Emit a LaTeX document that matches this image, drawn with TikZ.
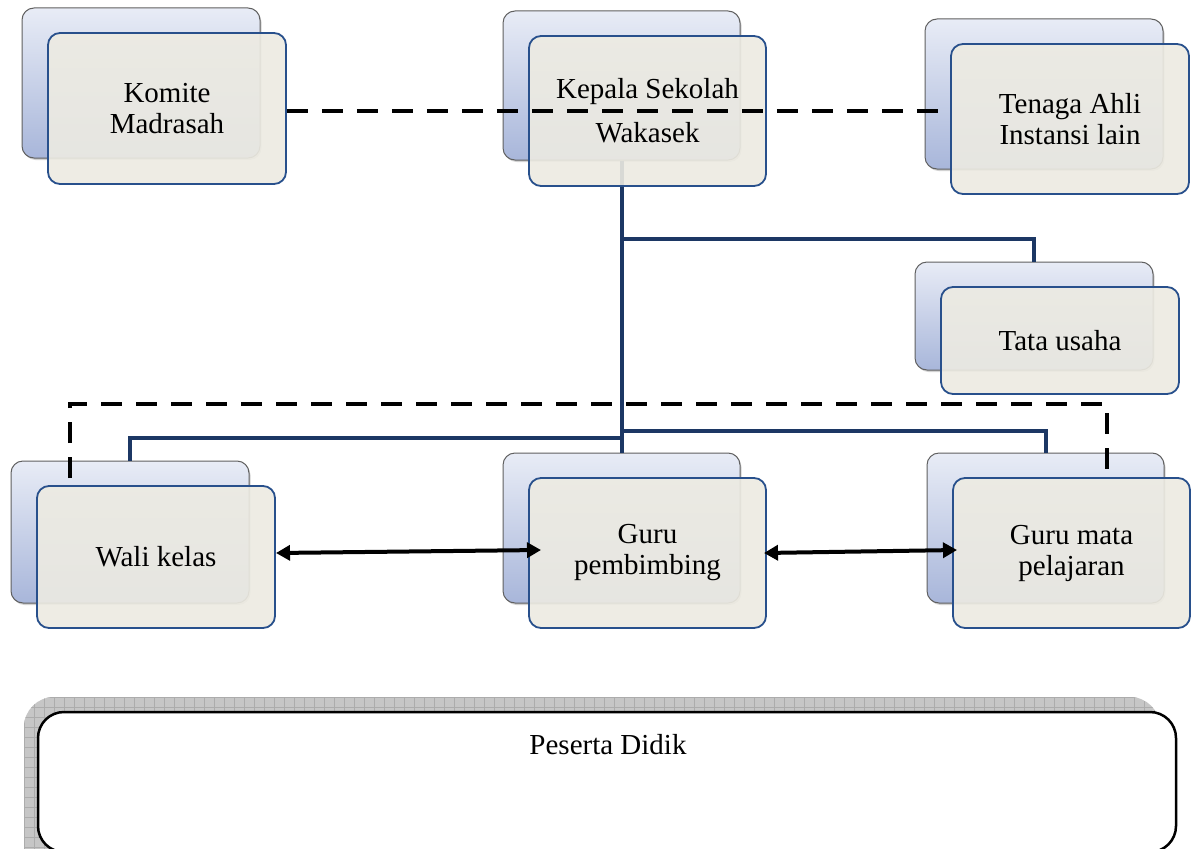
\documentclass[tikz,border=0pt]{standalone}
\usepackage{fontspec}
\setmainfont{Liberation Serif}
\usetikzlibrary{arrows.meta,shadows}
\definecolor{bkTop}{RGB}{232,236,246}
\definecolor{bkBot}{RGB}{168,182,218}
\definecolor{frFill}{RGB}{237,235,226}
\definecolor{frBorder}{RGB}{40,80,140}
\definecolor{navy}{RGB}{28,55,100}
\newcommand{\lblfont}{\fontsize{29}{31}\selectfont}
\tikzset{
  backbox/.style={rectangle, rounded corners=12pt, draw=gray!75!black, line width=1pt,
    top color=bkTop, bottom color=bkBot, inner sep=0pt,
    drop shadow={shadow xshift=1.5pt, shadow yshift=-2pt, opacity=0.35}},
  frontbox/.style={rectangle, rounded corners=12pt, draw=frBorder, line width=1.8pt,
    fill=frFill, fill opacity=0.9, text opacity=1, inner sep=0pt, align=center, font=\lblfont},
  orgline/.style={draw=navy, line width=4pt},
  dashline/.style={draw=black, line width=4pt, dash pattern=on 21pt off 14pt},
  twoway/.style={draw=black, line width=4pt, {Triangle[length=14pt,width=15pt]}-{Triangle[length=14pt,width=15pt]}},
  lbl/.style={font=\lblfont, inner sep=0pt}
}
\begin{document}
\begin{tikzpicture}[x=1pt,y=-1pt]
\clip (0,0) rectangle (1198,848);
\fill[white] (0,0) rectangle (1198,848);

% back boxes
\node[backbox, minimum width=238pt, minimum height=150pt] (komiteB) at (141,83) {};
\node[backbox, minimum width=237pt, minimum height=149pt] (kepalaB) at (621.5,85.5) {};
\node[backbox, minimum width=238pt, minimum height=150pt] (tenagaB) at (1044,94) {};
\node[backbox, minimum width=238pt, minimum height=108pt] (tataB) at (1034,316) {};
\node[backbox, minimum width=238pt, minimum height=142pt] (waliB) at (130,532) {};
\node[backbox, minimum width=237pt, minimum height=150pt] (gpB) at (621.5,528) {};
\node[backbox, minimum width=237pt, minimum height=150pt] (gmB) at (1045.5,528) {};

% organisation lines
\coordinate (j1) at (621.5,239);
\coordinate (j2) at (621.5,438);
\coordinate (j3) at (621.5,431);
\draw[orgline] (kepalaB.south) -- (gpB.north);
\draw[orgline] (j1) -| (tataB.north);
\draw[orgline] (j2) -| (waliB.north);
\draw[orgline] (j3) -| (gmB.north);

% front boxes
\node[frontbox, minimum width=238pt, minimum height=151pt] (komite) at (167,108.5) {Komite\\Madrasah};
\node[frontbox, minimum width=237pt, minimum height=150pt] (kepala) at (647.5,111) {Kepala Sekolah\\[13pt]Wakasek};
\node[frontbox, minimum width=238pt, minimum height=150pt] (tenaga) at (1070,119) {Tenaga Ahli\\Instansi lain};
\node[frontbox, minimum width=238pt, minimum height=107pt] (tata) at (1060,340.5) {Tata usaha};
\node[frontbox, minimum width=238pt, minimum height=142pt] (wali) at (156,557) {Wali kelas};
\node[frontbox, minimum width=237pt, minimum height=150pt] (gp) at (647.5,553) {Guru\\pembimbing};
\node[frontbox, minimum width=237pt, minimum height=150pt] (gm) at (1071.5,553) {Guru mata\\pelajaran};

% dashed lines
\coordinate (dE) at (941,111);
\draw[dashline] (komite.east |- dE) -- (dE);
\coordinate (dl) at (70,478);
\coordinate (dr) at (1107,478);
\coordinate (dtop) at (600,404);
\draw[dashline] (dl) |- (dtop) -| (dr);

% arrows
\coordinate (a1) at (276,553);
\coordinate (a2) at (541,550);
\coordinate (a3) at (764,553);
\coordinate (a4) at (957,550);
\draw[twoway] (a1) -- (a2);
\draw[twoway] (a3) -- (a4);

% Peserta Didik
\path[fill=gray!45, rounded corners=30pt] (24,697) rectangle (1160,900);
\begin{scope}
\clip[rounded corners=30pt] (24,697) rectangle (1160,900);
\foreach \gx in {24,34,...,1164} \draw[gray!65, line width=0.6pt] (\gx,690) -- (\gx,850);
\foreach \gy in {697,707,...,857} \draw[gray!65, line width=0.6pt] (20,\gy) -- (1165,\gy);
\end{scope}
\node[rectangle, rounded corners=26pt, draw=black, line width=2.5pt, fill=white,
  minimum width=1138pt, minimum height=140pt, inner sep=0pt] (pd) at (607,782) {};
\node[lbl, anchor=center] (pdText) at (608,745) {Peserta Didik};
\end{tikzpicture}
\end{document}
